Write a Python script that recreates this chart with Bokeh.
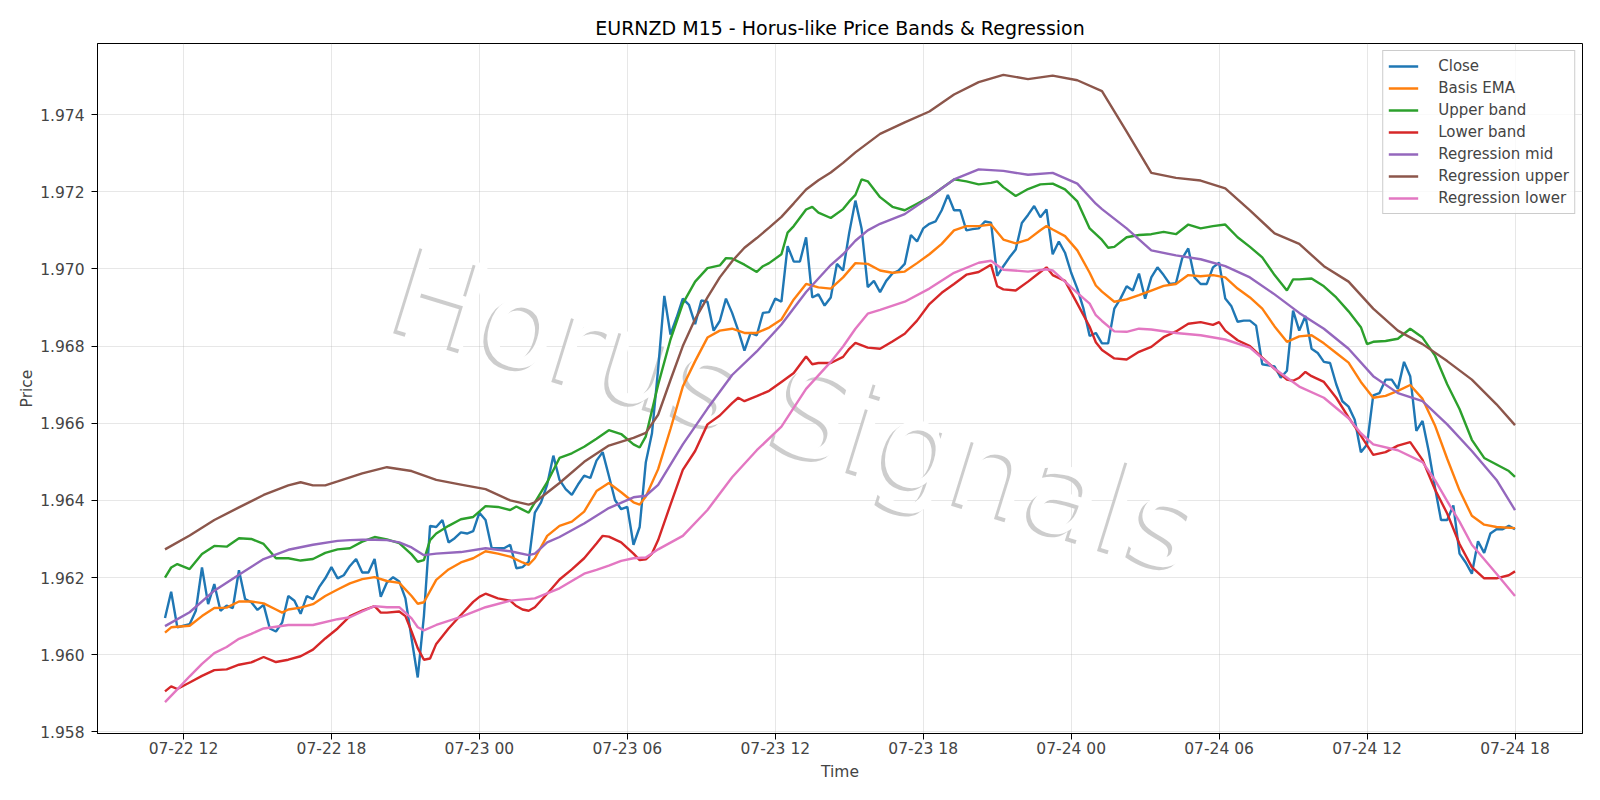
import pandas as pd
from bokeh.plotting import figure
from bokeh.models import (FixedTicker, PrintfTickFormatter, DatetimeTickFormatter,
                          Range1d, Legend, LegendItem)
from bokeh.core.properties import value
from bokeh.embed import file_html
from bokeh.resources import INLINE

# ---------------- data ----------------
bar_start = "2025-07-22 11:15"
bar_freq = "15min"

close = [
    1.96095, 1.96163, 1.96071, 1.96075, 1.96079, 1.96114, 1.96226, 1.96131, 1.96183, 1.96114,
    1.96127, 1.96121, 1.96219, 1.96144, 1.96136, 1.96116, 1.96129, 1.96068, 1.96060, 1.96083,
    1.96152, 1.96140, 1.96106, 1.96152, 1.96144, 1.96175, 1.96198, 1.96227, 1.96198, 1.96206,
    1.96230, 1.96248, 1.96213, 1.96213, 1.96248, 1.96150, 1.96187, 1.96201, 1.96190, 1.96146,
    1.96042, 1.95941, 1.96100, 1.96334, 1.96331, 1.96349, 1.96291, 1.96302, 1.96317, 1.96314,
    1.96320, 1.96368, 1.96349, 1.96276, 1.96276, 1.96276, 1.96285, 1.96224, 1.96227, 1.96241,
    1.96368, 1.96395, 1.96441, 1.96516, 1.96453, 1.96429, 1.96414, 1.96441, 1.96464, 1.96458,
    1.96503, 1.96525, 1.96464, 1.96401, 1.96377, 1.96383, 1.96285, 1.96331, 1.96499, 1.96574,
    1.96741, 1.96930, 1.96830, 1.96874, 1.96923, 1.96907, 1.96857, 1.96918, 1.96915, 1.96840,
    1.96865, 1.96923, 1.96886, 1.96840, 1.96788, 1.96834, 1.96828, 1.96886, 1.96888, 1.96923,
    1.96915, 1.97059, 1.97019, 1.97019, 1.97082, 1.96926, 1.96934, 1.96905, 1.96926, 1.97013,
    1.96996, 1.97094, 1.97177, 1.97105, 1.96953, 1.96969, 1.96940, 1.96969, 1.96988, 1.96996,
    1.97013, 1.97088, 1.97071, 1.97105, 1.97117, 1.97123, 1.97152, 1.97192, 1.97152, 1.97152,
    1.97100, 1.97103, 1.97105, 1.97123, 1.97120, 1.96982, 1.97007, 1.97030, 1.97050, 1.97119,
    1.97140, 1.97163, 1.97134, 1.97154, 1.97038, 1.97071, 1.97042, 1.96990, 1.96949, 1.96897,
    1.96826, 1.96834, 1.96807, 1.96807, 1.96897, 1.96923, 1.96955, 1.96944, 1.96988, 1.96923,
    1.96978, 1.97004, 1.96984, 1.96961, 1.96963, 1.97027, 1.97053, 1.96978, 1.96961, 1.96961,
    1.97004, 1.97016, 1.96923, 1.96903, 1.96863, 1.96866, 1.96866, 1.96853, 1.96753, 1.96750,
    1.96747, 1.96718, 1.96736, 1.96892, 1.96840, 1.96878, 1.96793, 1.96782, 1.96759, 1.96756,
    1.96701, 1.96657, 1.96643, 1.96609, 1.96525, 1.96545, 1.96672, 1.96678, 1.96713, 1.96713,
    1.96689, 1.96759, 1.96722, 1.96580, 1.96606, 1.96528, 1.96435, 1.96349, 1.96349, 1.96387,
    1.96262, 1.96239, 1.96210, 1.96294, 1.96264, 1.96314, 1.96325, 1.96325, 1.96334, 1.96325,
]

# smooth series: bar number -> value
ema_bar = [0, 1, 4, 6, 8, 10, 12, 14, 16, 18, 19, 20, 22, 24, 26, 28, 30, 32, 34, 36, 38, 40, 41, 42,
           44, 46, 48, 50, 52, 54, 56, 58, 59, 60, 62, 64, 66, 68, 70, 72, 74, 76, 77, 78, 80, 82, 84,
           86, 88, 90, 92, 94, 96, 98, 100, 102, 104, 106, 108, 110, 112, 114, 116, 118, 120, 122,
           124, 126, 128, 130, 132, 134, 136, 138, 140, 142, 143, 144, 146, 148, 150, 151, 152, 154,
           156, 158, 160, 162, 164, 166, 168, 170, 172, 174, 176, 178, 180, 182, 184, 186, 188, 190,
           192, 194, 196, 198, 200, 202, 204, 206, 208, 210, 212, 214, 216, 219]
ema_val = [1.96057, 1.96071, 1.96075, 1.96100, 1.96121, 1.96122, 1.96138, 1.96138, 1.96133, 1.96117,
           1.96109, 1.96117, 1.96122, 1.96131, 1.96152, 1.96169, 1.96185, 1.96196, 1.96201, 1.96191,
           1.96186, 1.96152, 1.96132, 1.96136, 1.96194, 1.96221, 1.96239, 1.96250, 1.96268, 1.96262,
           1.96254, 1.96239, 1.96233, 1.96250, 1.96308, 1.96334, 1.96345, 1.96371, 1.96424, 1.96445,
           1.96421, 1.96395, 1.96389, 1.96410, 1.96481, 1.96585, 1.96695, 1.96761, 1.96822, 1.96840,
           1.96845, 1.96834, 1.96834, 1.96848, 1.96869, 1.96921, 1.96961, 1.96952, 1.96949, 1.96978,
           1.97015, 1.97013, 1.96996, 1.96990, 1.96993, 1.97015, 1.97038, 1.97065, 1.97100, 1.97111,
           1.97111, 1.97115, 1.97076, 1.97066, 1.97076, 1.97100, 1.97111, 1.97102, 1.97085, 1.97048,
           1.96990, 1.96957, 1.96941, 1.96915, 1.96921, 1.96932, 1.96944, 1.96956, 1.96961, 1.96984,
           1.96981, 1.96984, 1.96978, 1.96949, 1.96926, 1.96897, 1.96851, 1.96811, 1.96825, 1.96828,
           1.96807, 1.96782, 1.96757, 1.96707, 1.96666, 1.96671, 1.96684, 1.96699, 1.96663, 1.96595,
           1.96508, 1.96426, 1.96360, 1.96337, 1.96331, 1.96328]

upper_bar = [0, 1, 2, 4, 6, 8, 10, 12, 14, 16, 18, 20, 22, 24, 26, 28, 30, 32, 34, 36, 38, 40, 41, 42,
             43, 44, 46, 48, 50, 52, 54, 56, 57, 58, 59, 60, 62, 64, 66, 68, 70, 72, 74, 76, 77, 78,
             80, 82, 84, 86, 88, 90, 91, 92, 94, 96, 97, 98, 100, 101, 102, 104, 105, 106, 108, 110,
             111, 112, 113, 114, 116, 118, 120, 122, 124, 126, 128, 130, 132, 134, 135, 136, 138, 140,
             142, 144, 146, 148, 150, 151, 152, 153, 154, 156, 158, 160, 162, 164, 166, 168, 170, 172,
             174, 176, 178, 180, 182, 183, 184, 186, 188, 190, 192, 194, 195, 196, 198, 200, 202, 204,
             206, 208, 210, 212, 214, 216, 218, 219]
upper_val = [1.96200, 1.96226, 1.96235, 1.96222, 1.96261, 1.96282, 1.96280, 1.96302, 1.96300, 1.96287,
             1.96250, 1.96250, 1.96244, 1.96248, 1.96264, 1.96273, 1.96276, 1.96293, 1.96305, 1.96299,
             1.96289, 1.96260, 1.96241, 1.96245, 1.96297, 1.96314, 1.96334, 1.96351, 1.96357, 1.96385,
             1.96383, 1.96375, 1.96384, 1.96376, 1.96368, 1.96395, 1.96447, 1.96510, 1.96522, 1.96539,
             1.96560, 1.96582, 1.96572, 1.96545, 1.96537, 1.96566, 1.96700, 1.96817, 1.96910, 1.96967,
             1.97002, 1.97009, 1.97028, 1.97027, 1.97011, 1.96992, 1.97007, 1.97015, 1.97038, 1.97094,
             1.97111, 1.97154, 1.97161, 1.97146, 1.97132, 1.97155, 1.97175, 1.97192, 1.97232, 1.97227,
             1.97186, 1.97161, 1.97152, 1.97169, 1.97186, 1.97209, 1.97232, 1.97227, 1.97219, 1.97223,
             1.97227, 1.97212, 1.97189, 1.97207, 1.97219, 1.97221, 1.97206, 1.97175, 1.97105, 1.97090,
             1.97075, 1.97055, 1.97057, 1.97082, 1.97088, 1.97090, 1.97096, 1.97090, 1.97115, 1.97105,
             1.97111, 1.97115, 1.97082, 1.97057, 1.97030, 1.96984, 1.96944, 1.96973, 1.96973, 1.96975,
             1.96955, 1.96926, 1.96890, 1.96849, 1.96805, 1.96811, 1.96813, 1.96819, 1.96845, 1.96822,
             1.96776, 1.96701, 1.96637, 1.96557, 1.96510, 1.96493, 1.96476, 1.96461]

lower_bar = [0, 1, 2, 4, 6, 8, 10, 12, 14, 16, 18, 20, 22, 24, 26, 28, 30, 32, 34, 35, 36, 38, 39, 40,
             41, 42, 43, 44, 46, 48, 50, 51, 52, 54, 56, 57, 58, 59, 60, 62, 64, 66, 68, 70, 71, 72,
             74, 76, 77, 78, 79, 80, 82, 84, 86, 88, 90, 92, 93, 94, 96, 98, 100, 102, 104, 105, 106,
             108, 110, 111, 112, 114, 116, 118, 120, 122, 124, 126, 128, 130, 132, 134, 135, 136, 138,
             140, 142, 143, 144, 146, 148, 150, 151, 152, 154, 156, 158, 160, 162, 164, 166, 168, 170,
             171, 172, 174, 176, 178, 180, 182, 183, 184, 185, 186, 188, 190, 192, 194, 196, 198, 200,
             202, 204, 206, 208, 210, 212, 214, 216, 218, 219]
lower_val = [1.95905, 1.95918, 1.95911, 1.95928, 1.95945, 1.95960, 1.95962, 1.95974, 1.95980, 1.95994,
             1.95981, 1.95987, 1.95996, 1.96013, 1.96042, 1.96068, 1.96100, 1.96114, 1.96126, 1.96109,
             1.96109, 1.96112, 1.96100, 1.96060, 1.96017, 1.95987, 1.95990, 1.96028, 1.96068, 1.96103,
             1.96137, 1.96150, 1.96158, 1.96146, 1.96140, 1.96126, 1.96117, 1.96114, 1.96123, 1.96158,
             1.96195, 1.96221, 1.96250, 1.96288, 1.96308, 1.96306, 1.96291, 1.96262, 1.96245, 1.96247,
             1.96262, 1.96297, 1.96389, 1.96479, 1.96528, 1.96597, 1.96620, 1.96652, 1.96666, 1.96657,
             1.96670, 1.96684, 1.96707, 1.96730, 1.96773, 1.96753, 1.96756, 1.96756, 1.96772, 1.96793,
             1.96808, 1.96796, 1.96793, 1.96812, 1.96832, 1.96866, 1.96909, 1.96938, 1.96961, 1.96985,
             1.96992, 1.97011, 1.96955, 1.96947, 1.96944, 1.96967, 1.96992, 1.97004, 1.96984, 1.96969,
             1.96910, 1.96850, 1.96810, 1.96790, 1.96768, 1.96765, 1.96785, 1.96798, 1.96823, 1.96838,
             1.96858, 1.96862, 1.96855, 1.96862, 1.96840, 1.96815, 1.96800, 1.96770, 1.96741, 1.96713,
             1.96710, 1.96718, 1.96733, 1.96722, 1.96707, 1.96666, 1.96615, 1.96568, 1.96518, 1.96525,
             1.96542, 1.96551, 1.96505, 1.96429, 1.96366, 1.96287, 1.96227, 1.96198, 1.96198, 1.96206,
             1.96216]

regmid_bar = [0, 4, 8, 12, 16, 20, 24, 28, 30, 32, 34, 36, 38, 40, 42, 44, 48, 52, 56, 59, 60, 62, 64,
              68, 72, 76, 78, 80, 84, 88, 92, 96, 100, 104, 108, 110, 112, 114, 116, 120, 124, 128,
              132, 136, 140, 144, 148, 151, 152, 156, 160, 164, 168, 172, 176, 180, 184, 188, 192,
              196, 200, 204, 208, 212, 216, 219]
regmid_val = [1.96074, 1.96110, 1.96166, 1.96207, 1.96248, 1.96272, 1.96285, 1.96295, 1.96297, 1.96298,
              1.96298, 1.96297, 1.96291, 1.96278, 1.96258, 1.96262, 1.96266, 1.96276, 1.96268, 1.96258,
              1.96262, 1.96291, 1.96305, 1.96340, 1.96380, 1.96408, 1.96412, 1.96440, 1.96545, 1.96638,
              1.96725, 1.96786, 1.96856, 1.96940, 1.97010, 1.97038, 1.97073, 1.97100, 1.97117, 1.97142,
              1.97186, 1.97232, 1.97258, 1.97254, 1.97244, 1.97249, 1.97221, 1.97169, 1.97155, 1.97105,
              1.97048, 1.97035, 1.97025, 1.97007, 1.96978, 1.96934, 1.96886, 1.96845, 1.96793, 1.96722,
              1.96678, 1.96657, 1.96597, 1.96528, 1.96453, 1.96375]

regup_bar = [0, 4, 8, 12, 16, 20, 22, 24, 26, 28, 32, 36, 40, 44, 48, 52, 56, 59, 60, 64, 68, 72, 76,
             78, 80, 82, 84, 86, 88, 90, 92, 94, 96, 98, 100, 102, 104, 106, 108, 110, 112, 116, 120,
             124, 128, 132, 136, 140, 144, 148, 152, 156, 160, 164, 168, 172, 176, 180, 184, 188, 192,
             196, 200, 204, 208, 212, 216, 219]
regup_val = [1.96273, 1.96309, 1.96349, 1.96382, 1.96414, 1.96439, 1.96447, 1.96439, 1.96439, 1.96449,
             1.96470, 1.96486, 1.96476, 1.96453, 1.96441, 1.96429, 1.96400, 1.96389, 1.96395, 1.96445,
             1.96500, 1.96542, 1.96562, 1.96575, 1.96622, 1.96712, 1.96800, 1.96870, 1.96926, 1.96978,
             1.97020, 1.97055, 1.97080, 1.97107, 1.97135, 1.97170, 1.97206, 1.97230, 1.97250, 1.97275,
             1.97302, 1.97350, 1.97380, 1.97408, 1.97452, 1.97484, 1.97503, 1.97492, 1.97501, 1.97489,
             1.97461, 1.97356, 1.97249, 1.97236, 1.97229, 1.97209, 1.97152, 1.97092, 1.97065, 1.97007,
             1.96967, 1.96897, 1.96840, 1.96805, 1.96761, 1.96713, 1.96649, 1.96595]

reglow_bar = [0, 2, 4, 6, 8, 10, 12, 14, 16, 20, 24, 28, 30, 32, 34, 36, 38, 40, 41, 42, 44, 48, 52,
              56, 60, 64, 68, 70, 72, 74, 76, 78, 80, 84, 88, 92, 96, 100, 104, 108, 110, 112, 114,
              116, 120, 124, 128, 132, 134, 136, 140, 143, 144, 148, 150, 151, 152, 154, 156, 158,
              160, 164, 168, 172, 176, 180, 184, 188, 192, 194, 196, 200, 204, 206, 208, 210, 212,
              216, 219]
reglow_val = [1.95877, 1.95910, 1.95944, 1.95976, 1.96004, 1.96020, 1.96041, 1.96054, 1.96068, 1.96077,
              1.96077, 1.96092, 1.96097, 1.96112, 1.96126, 1.96123, 1.96123, 1.96094, 1.96071, 1.96063,
              1.96077, 1.96098, 1.96123, 1.96140, 1.96146, 1.96172, 1.96210, 1.96220, 1.96231, 1.96243,
              1.96250, 1.96252, 1.96273, 1.96308, 1.96375, 1.96460, 1.96530, 1.96591, 1.96689, 1.96759,
              1.96799, 1.96845, 1.96884, 1.96894, 1.96915, 1.96949, 1.96990, 1.97016, 1.97021, 1.96998,
              1.96993, 1.96999, 1.96996, 1.96938, 1.96910, 1.96880, 1.96865, 1.96838, 1.96837, 1.96845,
              1.96843, 1.96834, 1.96828, 1.96817, 1.96796, 1.96741, 1.96695, 1.96666, 1.96613, 1.96574,
              1.96545, 1.96530, 1.96499, 1.96453, 1.96398, 1.96345, 1.96285, 1.96210, 1.96152]

y_ticks = [1.958, 1.960, 1.962, 1.964, 1.966, 1.968, 1.970, 1.972, 1.974]
x_tick_times = ["2025-07-22 12:00", "2025-07-22 18:00", "2025-07-23 00:00", "2025-07-23 06:00",
                "2025-07-23 12:00", "2025-07-23 18:00", "2025-07-24 00:00", "2025-07-24 06:00",
                "2025-07-24 12:00", "2025-07-24 18:00"]

series = [
    ("Close", None, close, "#1f77b4"),
    ("Basis EMA", ema_bar, ema_val, "#ff7f0e"),
    ("Upper band", upper_bar, upper_val, "#2ca02c"),
    ("Lower band", lower_bar, lower_val, "#d62728"),
    ("Regression mid", regmid_bar, regmid_val, "#9467bd"),
    ("Regression upper", regup_bar, regup_val, "#8c564b"),
    ("Regression lower", reglow_bar, reglow_val, "#e377c2"),
]

# ---------------- figure ----------------
times = pd.date_range(bar_start, periods=len(close), freq=bar_freq)
span = times[-1] - times[0]
x_lo, x_hi = times[0] - span * 0.05, times[-1] + span * 0.05
all_vals = close + ema_val + upper_val + lower_val + regmid_val + regup_val + reglow_val
vmin, vmax = min(all_vals), max(all_vals)
pad = (vmax - vmin) * 0.05

FONT = "DejaVu Sans"
p = figure(width=1600, height=800, output_backend="svg", toolbar_location=None,
           x_axis_type="datetime",
           x_range=Range1d(x_lo, x_hi), y_range=Range1d(vmin - pad, vmax + pad),
           title="EURNZD M15 - Horus-like Price Bands & Regression")
p.min_border_left = 97
p.min_border_right = 18
p.min_border_top = 43
p.min_border_bottom = 67

p.title.align = "center"
p.title.text_font = FONT
p.title.text_font_size = "19px"
p.title.text_font_style = "normal"
p.title.text_color = "black"
p.title.standoff = 9

p.outline_line_color = "black"
p.outline_line_alpha = 1
p.outline_line_width = 1

p.xgrid.grid_line_color = "#b0b0b0"
p.ygrid.grid_line_color = "#b0b0b0"
p.xgrid.grid_line_alpha = 0.3
p.ygrid.grid_line_alpha = 0.3

tick_ms = [pd.Timestamp(t).value // 10**6 for t in x_tick_times]
p.xaxis.ticker = FixedTicker(ticks=tick_ms)
fmt = "%m-%d %H"
p.xaxis.formatter = DatetimeTickFormatter(microseconds=fmt, milliseconds=fmt, seconds=fmt,
                                          minsec=fmt, minutes=fmt, hourmin=fmt, hours=fmt,
                                          days=fmt, months=fmt, years=fmt)
p.yaxis.ticker = FixedTicker(ticks=y_ticks)
p.yaxis.formatter = PrintfTickFormatter(format="%.3f")
p.xaxis.axis_label = "Time"
p.yaxis.axis_label = "Price"
for ax in (p.xaxis, p.yaxis):
    ax.axis_label_text_font = FONT
    ax.axis_label_text_font_size = "15.5px"
    ax.axis_label_text_font_style = "normal"
    ax.major_label_text_font = FONT
    ax.major_label_text_font_size = "15.5px"
    ax.major_tick_in = 0
    ax.major_tick_out = 6
    ax.minor_tick_in = 0
    ax.minor_tick_out = 0
    ax.axis_line_color = "black"
    ax.major_tick_line_color = "black"
p.xaxis.major_label_standoff = 0
p.yaxis.major_label_standoff = 7
p.xaxis.axis_label_standoff = 2
p.yaxis.axis_label_standoff = 1

# watermark (under the lines)
wm_x = [times[0] + (times[-1] - times[0]) * 0.468]
wm_y = [(vmin + vmax) / 2 - (vmax - vmin) * 0.034]
p.text(x=wm_x, y=wm_y, text=["Horus Signals"], angle=-0.30,
       text_font=value(FONT), text_font_size="122px", text_color="#c8c8c8", text_alpha=0.9,
       text_align="center", text_baseline="middle", x_offset=-4, y_offset=3)
p.text(x=wm_x, y=wm_y, text=["Horus Signals"], angle=-0.30,
       text_font=value(FONT), text_font_size="122px", text_color="#ffffff", text_alpha=1.0,
       text_align="center", text_baseline="middle")

items = []
for name, bars, vals, color in series:
    xs = times if bars is None else times[bars]
    r = p.line(x=xs, y=vals, line_color=color, line_width=2.4)
    items.append(LegendItem(label=name, renderers=[r]))

legend = Legend(items=items, location="top_right",
                label_text_font=FONT, label_text_font_size="15px",
                glyph_width=30, glyph_height=20, label_height=20, spacing=2,
                label_standoff=20, padding=5, margin=7,
                border_line_color="#cccccc", border_line_alpha=1,
                background_fill_alpha=0.8)
p.add_layout(legend)

open("out.html", "w").write(file_html(p, INLINE))
